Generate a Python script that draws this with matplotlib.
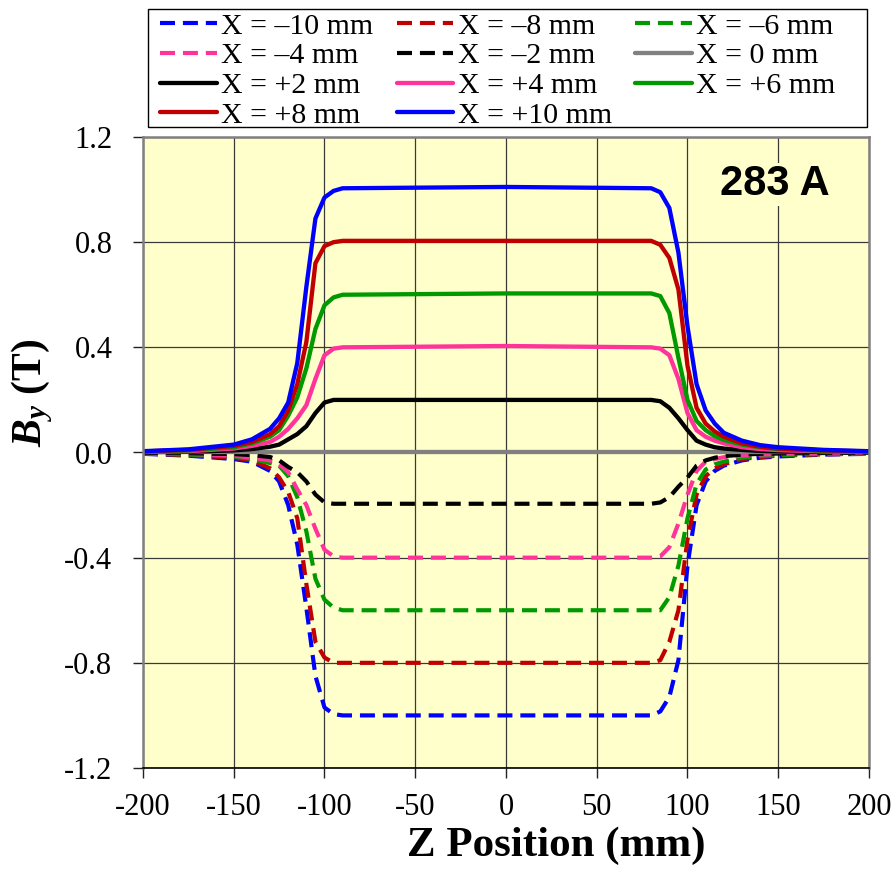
import matplotlib
matplotlib.use("Agg")
import matplotlib.pyplot as plt
from matplotlib.patches import Rectangle

plt.rcParams['axes.unicode_minus'] = False
plt.rcParams['mathtext.fontset'] = 'custom'
plt.rcParams['mathtext.it'] = 'Liberation Serif:italic:bold'
plt.rcParams['mathtext.rm'] = 'Liberation Serif:bold'

z = [-200, -175, -150, -140, -130, -125, -120, -115, -110, -105, -100, -95, -90, 0,
     80, 85, 90, 95, 100, 105, 110, 115, 120, 130, 140, 150, 175, 200]

# By (T) for each transverse offset X
by_m10 = [-0.005, -0.012, -0.025, -0.035, -0.07, -0.11, -0.20, -0.35, -0.59, -0.85, -0.97, -0.995, -1.0, -1.0,
          -1.0, -0.985, -0.93, -0.79, -0.43, -0.20, -0.11, -0.07, -0.05, -0.03, -0.02, -0.015, -0.008, -0.005]
by_m8 = [-0.004, -0.01, -0.02, -0.03, -0.06, -0.095, -0.15, -0.25, -0.50, -0.72, -0.78, -0.80, -0.80, -0.80,
         -0.80, -0.79, -0.72, -0.60, -0.33, -0.16, -0.09, -0.06, -0.045, -0.025, -0.017, -0.012, -0.007, -0.004]
by_m6 = [-0.003, -0.008, -0.015, -0.025, -0.04, -0.05, -0.09, -0.17, -0.30, -0.48, -0.56, -0.59, -0.60, -0.60,
         -0.60, -0.60, -0.55, -0.43, -0.25, -0.12, -0.065, -0.045, -0.035, -0.02, -0.014, -0.01, -0.005, -0.003]
by_m4 = [-0.002, -0.005, -0.012, -0.02, -0.03, -0.045, -0.075, -0.14, -0.20, -0.29, -0.37, -0.395, -0.40, -0.40,
         -0.40, -0.395, -0.36, -0.27, -0.16, -0.07, -0.035, -0.025, -0.018, -0.012, -0.008, -0.006, -0.003, -0.002]
by_m2 = [-0.001, -0.003, -0.006, -0.01, -0.017, -0.03, -0.055, -0.075, -0.11, -0.16, -0.19, -0.195, -0.195, -0.195,
         -0.195, -0.19, -0.17, -0.13, -0.095, -0.05, -0.03, -0.02, -0.014, -0.008, -0.005, -0.004, -0.002, -0.001]
by_0 = [0.0, 0.0, 0.0, 0.0, 0.0, 0.0, 0.0, 0.0, 0.0, 0.0, 0.0, 0.0, 0.0, 0.0,
        0.0, 0.0, 0.0, 0.0, 0.0, 0.0, 0.0, 0.0, 0.0, 0.0, 0.0, 0.0, 0.0, 0.0]
by_p2 = [0.001, 0.003, 0.008, 0.013, 0.022, 0.03, 0.05, 0.07, 0.10, 0.15, 0.19, 0.20, 0.20, 0.20,
         0.20, 0.195, 0.17, 0.13, 0.085, 0.045, 0.03, 0.02, 0.015, 0.01, 0.006, 0.004, 0.002, 0.001]
by_p4 = [0.002, 0.005, 0.015, 0.025, 0.04, 0.06, 0.09, 0.13, 0.18, 0.28, 0.37, 0.395, 0.40, 0.405,
         0.40, 0.395, 0.37, 0.28, 0.15, 0.085, 0.06, 0.045, 0.035, 0.02, 0.013, 0.009, 0.004, 0.002]
by_p6 = [0.003, 0.008, 0.02, 0.035, 0.06, 0.085, 0.14, 0.21, 0.32, 0.47, 0.56, 0.59, 0.60, 0.605,
         0.605, 0.595, 0.53, 0.36, 0.20, 0.12, 0.085, 0.062, 0.048, 0.03, 0.02, 0.013, 0.006, 0.003]
by_p8 = [0.004, 0.01, 0.025, 0.04, 0.07, 0.10, 0.16, 0.26, 0.42, 0.72, 0.785, 0.80, 0.805, 0.805,
         0.805, 0.79, 0.74, 0.62, 0.33, 0.17, 0.11, 0.08, 0.06, 0.035, 0.022, 0.015, 0.008, 0.004]
by_p10 = [0.005, 0.012, 0.03, 0.05, 0.09, 0.13, 0.19, 0.34, 0.63, 0.89, 0.97, 0.995, 1.005, 1.01,
          1.005, 0.99, 0.93, 0.76, 0.48, 0.26, 0.16, 0.11, 0.075, 0.045, 0.028, 0.02, 0.01, 0.005]

labels = ["X = \u201310 mm", "X = \u20138 mm", "X = \u20136 mm", "X = \u20134 mm", "X = \u20132 mm",
          "X = 0 mm", "X = +2 mm", "X = +4 mm", "X = +6 mm", "X = +8 mm", "X = +10 mm"]
series = [by_m10, by_m8, by_m6, by_m4, by_m2, by_0, by_p2, by_p4, by_p6, by_p8, by_p10]
colors = ['#0000FF', '#C00000', '#009900', '#FF3399', '#000000', '#808080',
          '#000000', '#FF3399', '#009900', '#C00000', '#0000FF']
dashed = [True, True, True, True, True, False, False, False, False, False, False]

fig = plt.figure(figsize=(8.95, 8.72), dpi=100)
ax = fig.add_axes([143 / 895, 104 / 872, 726 / 895, 631 / 872])
ax.set_facecolor('#FFFFCC')

lines = {}
for lab, vals, col, d in zip(labels, series, colors, dashed):
    if d:
        ln, = ax.plot(z, vals, color=col, lw=3.0, linestyle=(0, (3.6, 1.9)), label=lab)
    else:
        ln, = ax.plot(z, vals, color=col, lw=3.1, solid_capstyle='round', label=lab)
    lines[lab] = ln

ax.set_xlim(-200, 200)
ax.set_ylim(-1.2, 1.2)
ax.set_xticks(range(-200, 201, 50))
ax.set_yticks([-1.2, -0.8, -0.4, 0.0, 0.4, 0.8, 1.2])
ax.set_yticklabels(['-1.2', '-0.8', '-0.4', '0.0', '0.4', '0.8', '1.2'])
ax.grid(True, color='#3a3a3a', lw=0.9)
ax.set_axisbelow(True)

for lab in ax.get_xticklabels() + ax.get_yticklabels():
    lab.set_family('Liberation Serif')
    lab.set_fontsize(22)
ax.tick_params(axis='x', direction='out', length=7, width=1, color='#222222', pad=11)
ax.tick_params(axis='y', direction='out', length=7, width=1, color='#222222', pad=15)

for s in ['left', 'top', 'right']:
    ax.spines[s].set_color('#808080')
    ax.spines[s].set_linewidth(1.8)
ax.spines['bottom'].set_color('#000000')
ax.spines['bottom'].set_linewidth(1.2)

ax.text(148, 1.02, "283 A", fontsize=30, fontweight='bold', family='Liberation Sans',
        ha='center', va='center',
        bbox=dict(facecolor='#FFFFCC', edgecolor='none', pad=1))

fig.text(556 / 895, 1 - 846 / 872, "Z Position (mm)", fontsize=31, fontweight='bold',
         family='Liberation Serif', ha='center', va='center')
fig.text(32 / 895, 1 - 393 / 872, r"$B_y$ (T)", fontsize=30, fontweight='bold',
         family='Liberation Serif', ha='center', va='center', rotation=90)

# legend is filled column by column; frame drawn separately (wider than entries)
order = ["X = \u201310 mm", "X = \u20134 mm", "X = +2 mm", "X = +8 mm",
         "X = \u20138 mm", "X = \u20132 mm", "X = +4 mm", "X = +10 mm",
         "X = \u20136 mm", "X = 0 mm", "X = +6 mm"]
leg = fig.legend([lines[k] for k in order], order, ncol=3, loc='upper left',
                 bbox_to_anchor=(160 / 895, 1 - 13 / 872),
                 borderaxespad=0, frameon=False,
                 prop={'family': 'Liberation Serif', 'size': 21.5},
                 handlelength=1.9, handletextpad=0.15, labelspacing=0.09,
                 borderpad=0.0, columnspacing=0.78)
fig.patches.append(Rectangle((148 / 895, 1 - 127 / 872), 719 / 895, 118 / 872,
                             transform=fig.transFigure, fill=False,
                             edgecolor='#000000', lw=1.0))

fig.savefig('out.png', dpi=100)
